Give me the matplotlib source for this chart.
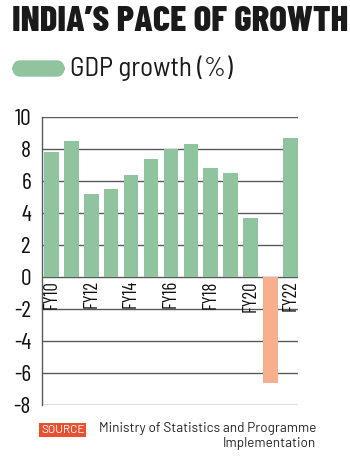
import matplotlib
matplotlib.use("Agg")
import matplotlib.pyplot as plt
from matplotlib.patches import FancyBboxPatch

# GDP growth, FY10 - FY22
years = ["FY10", "FY11", "FY12", "FY13", "FY14", "FY15", "FY16",
         "FY17", "FY18", "FY19", "FY20", "FY21", "FY22"]
growth = [7.8, 8.5, 5.2, 5.5, 6.4, 7.4, 8.0, 8.3, 6.8, 6.5, 3.7, -6.6, 8.7]
yticks = [-8, -6, -4, -2, 0, 2, 4, 6, 8, 10]

GREEN = "#8fc49e"
ORANGE = "#f7b08e"
COND = ["Barlow Condensed", "DejaVu Sans"]
SEMI = ["Barlow Semi Condensed", "DejaVu Sans"]
PLAIN = ["Barlow", "DejaVu Sans"]

fig = plt.figure(figsize=(3.5, 4.58), dpi=100)
ax = fig.add_axes([0.12, 0.1157, 0.731, 0.6288])

x = list(range(len(years)))
colors = [GREEN if v >= 0 else ORANGE for v in growth]
ax.bar(x, growth, width=0.73, color=colors, zorder=3)

ax.set_ylim(-8, 10)
ax.set_xlim(-0.475, len(years) - 0.625)
ax.set_yticks(yticks)
ax.set_yticklabels([str(t) for t in yticks], family=COND, fontsize=17,
                   color="#111111")
ax.tick_params(axis="y", length=0, pad=8)
ax.set_xticks([])
ax.yaxis.grid(True, color="#5a5a5a", linewidth=1.0, zorder=1)

for side in ["top", "right", "bottom"]:
    ax.spines[side].set_visible(False)
ax.spines["left"].set_color("#5a5a5a")
ax.spines["left"].set_linewidth(1.0)

# year labels under the zero line, every second year
for i in range(0, len(years), 2):
    ax.text(i, -0.2, years[i], rotation=90, ha="center", va="top",
            family=COND, fontsize=13.5, color="#111111", zorder=4)

# title and legend
fig.text(0.034, 0.952, "INDIA\u2019S PACE OF GROWTH", family=COND,
         fontweight=800, fontsize=26.5, va="center", ha="left", color="#1a1a1a")
fig.patches.append(FancyBboxPatch((13 / 350, 1 - 76 / 458), 51 / 350, 15 / 458,
                                  boxstyle="round,pad=0,rounding_size=0.02",
                                  transform=fig.transFigure, color=GREEN))
fig.text(70 / 350, 1 - 68 / 458, "GDP growth (%)", family=SEMI,
         fontsize=19.5, va="center", ha="left", color="#1a1a1a")

# source note
fig.text(41 / 350, 1 - 430 / 458, "SOURCE", fontsize=8.5, color="white",
         family=PLAIN, va="center", ha="left",
         bbox=dict(boxstyle="square,pad=0.15", fc="#e8502f", ec="none"))
fig.text(316 / 350, 1 - 436 / 458, "Ministry of Statistics and Programme\nImplementation",
         fontsize=9.7, color="#222222", family=PLAIN,
         va="center", ha="right", multialignment="right", linespacing=1.15)

fig.savefig("out.png", dpi=100)
